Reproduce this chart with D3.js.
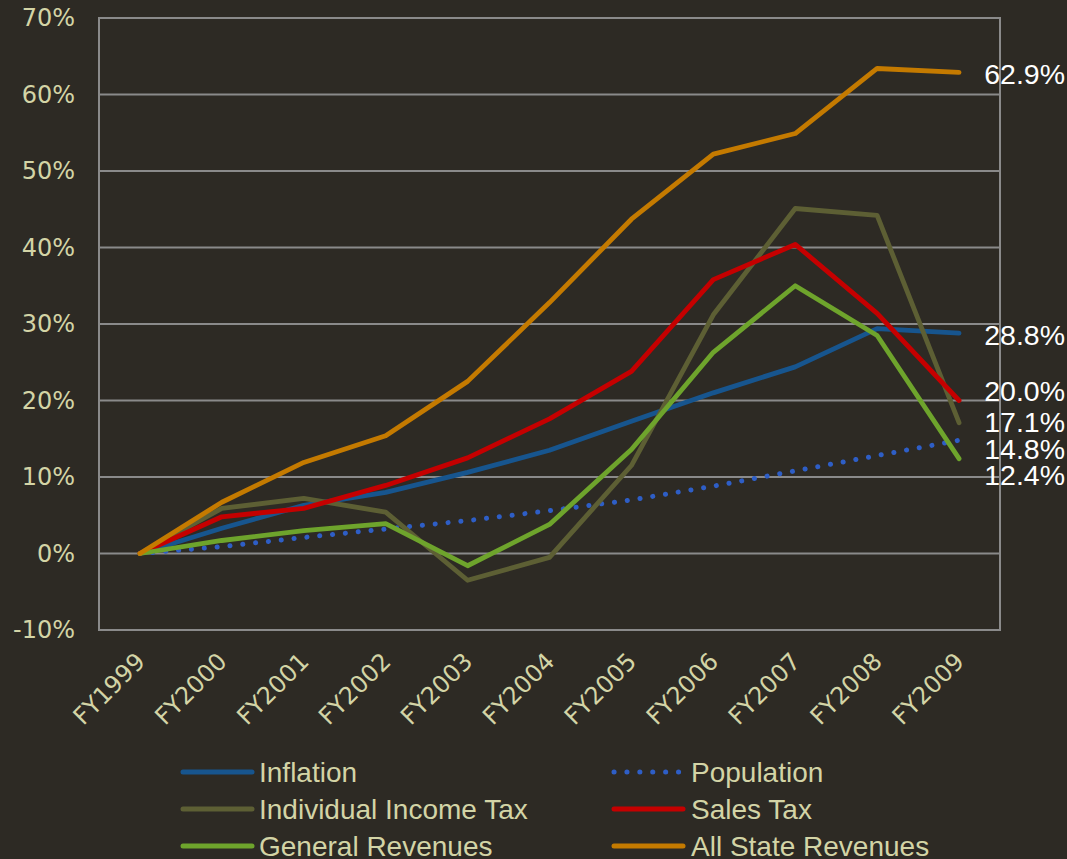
<!DOCTYPE html>
<html><head><meta charset="utf-8">
<script src="https://cdn.jsdelivr.net/npm/d3@7"></script>
<style>
html,body{margin:0;padding:0;background:#2d2a24;}
svg{display:block;}
</style></head>
<body>
<svg id="chart" width="1067" height="859"></svg>
<script>
const categories = ["FY1999","FY2000","FY2001","FY2002","FY2003","FY2004","FY2005","FY2006","FY2007","FY2008","FY2009"];
const inflation = [0, 3.3, 6.3, 8.0, 10.6, 13.5, 17.3, 21.0, 24.4, 29.4, 28.8];
const population = [0, 0.9, 2.1, 3.2, 4.3, 5.6, 7.0, 8.8, 10.8, 12.8, 14.8];
const incomeTax = [0, 5.9, 7.2, 5.4, -3.5, -0.5, 11.5, 31.2, 45.1, 44.2, 17.1];
const salesTax = [0, 4.8, 5.9, 8.9, 12.5, 17.6, 23.8, 35.8, 40.4, 31.4, 20.0];
const generalRevenues = [0, 1.7, 3.0, 3.9, -1.6, 3.8, 13.6, 26.3, 35.0, 28.5, 12.4];
const allStateRevenues = [0, 6.7, 11.9, 15.4, 22.5, 32.8, 43.7, 52.2, 54.9, 63.4, 62.9];
const yTicks = [-10, 0, 10, 20, 30, 40, 50, 60, 70];

const series = [
  {name:"Inflation", values: inflation, color:"#17558e", dotted:false},
  {name:"Population", values: population, color:"#2e5ec6", dotted:true},
  {name:"Individual Income Tax", values: incomeTax, color:"#5d5f34", dotted:false},
  {name:"Sales Tax", values: salesTax, color:"#c50000", dotted:false},
  {name:"General Revenues", values: generalRevenues, color:"#6ea42c", dotted:false},
  {name:"All State Revenues", values: allStateRevenues, color:"#c47a00", dotted:false}
];

const svg = d3.select("#chart");
const L = 99, R = 1000, T = 18, B = 630;
const x = d3.scalePoint().domain(categories).range([L, R]).padding(0.5);
const y = d3.scaleLinear().domain([-10, 70]).range([B, T]);

const tickColor = "#d3d4a6";
const gridColor = "#8a8a8a";

// gridlines
svg.append("g").selectAll("line").data(yTicks).join("line")
  .attr("x1", L).attr("x2", R)
  .attr("y1", d => y(d)).attr("y2", d => y(d))
  .attr("stroke", gridColor).attr("stroke-width", 2);
// frame
svg.append("rect").attr("x", L).attr("y", T).attr("width", R - L).attr("height", B - T)
  .attr("fill", "none").attr("stroke", gridColor).attr("stroke-width", 2);

// y axis labels
const yAxis = d3.axisLeft(y).tickValues(yTicks).tickFormat(d => d + "%").tickSize(0).tickPadding(24);
const gy = svg.append("g").attr("transform", `translate(${L},0)`).call(yAxis);
gy.select(".domain").remove();
gy.selectAll("text").attr("fill", tickColor)
  .style("font-family", "DejaVu Sans").style("font-size", "24px");

// x axis labels
const xAxis = d3.axisBottom(x).tickSize(0).tickPadding(0);
const gx = svg.append("g").attr("transform", `translate(0,${B})`).call(xAxis);
gx.select(".domain").remove();
gx.selectAll("text").attr("fill", tickColor)
  .style("font-family", "DejaVu Sans").style("font-size", "24px")
  .attr("text-anchor", "end").attr("dy", null).attr("y", 0)
  .attr("transform", "translate(6,33) rotate(-45)");

// lines
const line = d3.line().x((d, i) => x(categories[i])).y(d => y(d));
svg.append("g").selectAll("path").data(series).join("path")
  .attr("d", d => line(d.values))
  .attr("fill", "none")
  .attr("stroke", d => d.color)
  .attr("stroke-width", d => d.dotted ? 5 : 4.8)
  .attr("stroke-linecap", "round")
  .attr("stroke-linejoin", "round")
  .attr("stroke-dasharray", d => d.dotted ? "0.1 12.8" : null);

// end labels
const endLabels = [
  {v: allStateRevenues[10], ly: 84},
  {v: inflation[10], ly: 345},
  {v: salesTax[10], ly: 401},
  {v: incomeTax[10], ly: 432},
  {v: population[10], ly: 459},
  {v: generalRevenues[10], ly: 485}
];
svg.append("g").selectAll("text").data(endLabels).join("text")
  .attr("x", 1065).attr("y", d => d.ly)
  .attr("text-anchor", "end")
  .attr("fill", "#ffffff")
  .style("font-family", "Liberation Sans").style("font-size", "28.5px")
  .text(d => d.v.toFixed(1) + "%");

// legend
const legendPos = [
  {lx: 183, tx: 259, ty: 772}, {lx: 614, tx: 691, ty: 772},
  {lx: 183, tx: 259, ty: 809}, {lx: 614, tx: 691, ty: 809},
  {lx: 183, tx: 259, ty: 846}, {lx: 614, tx: 691, ty: 846}
];
const lg = svg.append("g");
series.forEach((s, i) => {
  const p = legendPos[i];
  lg.append("line").attr("x1", p.lx).attr("x2", p.lx + 69)
    .attr("y1", p.ty).attr("y2", p.ty)
    .attr("stroke", s.color).attr("stroke-width", 5)
    .attr("stroke-linecap", "round")
    .attr("stroke-dasharray", s.dotted ? "0.1 12.8" : null);
  lg.append("text").attr("x", p.tx).attr("y", p.ty + 10)
    .attr("fill", tickColor)
    .style("font-family", "Liberation Sans").style("font-size", "28px")
    .text(s.name);
});
</script>
</body></html>
